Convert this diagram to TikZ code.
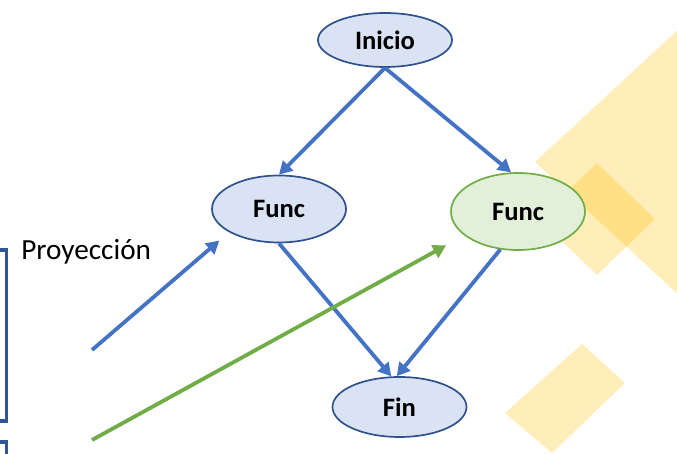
\documentclass[tikz,border=0pt]{standalone}
\usepackage{fontspec}
\setmainfont{Carlito}
\usetikzlibrary{shapes.geometric,arrows.meta}
\definecolor{azulclaro}{HTML}{DAE3F3}
\definecolor{azulborde}{HTML}{2F528F}
\definecolor{azulflecha}{HTML}{4472C4}
\definecolor{verdeclaro}{HTML}{E2F0D9}
\definecolor{verdeborde}{HTML}{70AD47}
\definecolor{marco}{HTML}{2F5597}
\definecolor{ocre}{HTML}{FFC000}
\begin{document}
\begin{tikzpicture}[x=0.5pt, y=-0.5pt, >={Triangle[length=6.5pt,width=7pt]},
  estado/.style={ellipse, draw=azulborde, fill=azulclaro, line width=0.85pt, minimum width=67pt, inner sep=0pt, font=\fontsize{13.3}{16}\selectfont\bfseries},
  flujo/.style={->, line width=1.9pt, azulflecha},
  rombo/.style={fill=ocre, fill opacity=0.27}]
\clip (0,0) rectangle (677,454);
\fill[white] (0,0) rectangle (677,454);
\fill[rombo] (535,162) -- (710,0) -- (880,162) -- (710,324) -- cycle;
\fill[rombo] (539,219) -- (597,163) -- (655,219) -- (597,275) -- cycle;
\fill[rombo] (505,413) -- (582,344) -- (625,383) -- (552,453) -- cycle;
\draw[marco, line width=2pt] (-10,250.5) -- (6.5,250.5) -- (6.5,421) -- (-10,421);
\draw[marco, line width=2pt] (-10,442.5) -- (6.5,442.5) -- (6.5,470);
\node[estado, minimum height=27pt] (ini) at (385,40) {Inicio};
\node[estado, minimum height=33.5pt] (fl) at (279,209) {Func};
\node[estado, minimum height=38.5pt, draw=verdeborde, fill=verdeclaro] (fr) at (518,211.5) {Func};
\node[estado, minimum height=30pt] (fin) at (399.5,407) {Fin};
\node[anchor=base west, inner sep=0pt, font=\fontsize{14.6}{17}\selectfont] (proy) at (21,259.3) {Proyección};
\coordinate (pa) at (92,350);
\coordinate (pv) at (92,440);
\draw[flujo] (ini.south) -- (fl.north);
\draw[flujo] (ini.south) -- (fr.100);
\draw[flujo] (fl.south) -- (fin.105);
\draw[flujo] (fr.245) -- (fin.95);
\draw[flujo, shorten >=6.4pt] (pa) -- (fl.205);
\draw[flujo, verdeborde, shorten >=10.3pt] (pv) -- (fr.204);
\end{tikzpicture}
\end{document}
